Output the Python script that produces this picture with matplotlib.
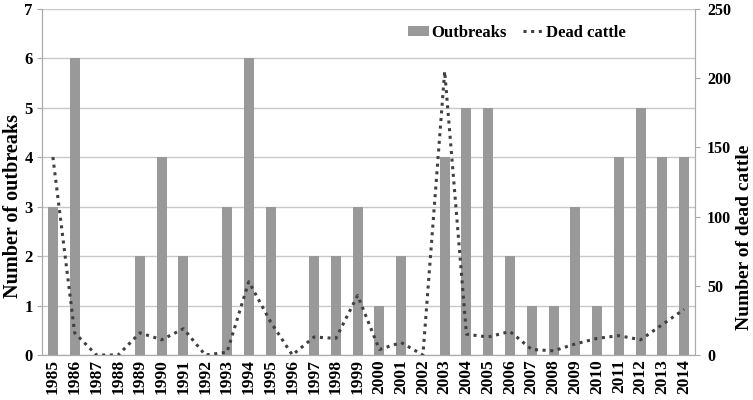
import matplotlib
matplotlib.use("Agg")
import matplotlib.pyplot as plt
import numpy as np

years = list(range(1985, 2015))
outbreaks = [3, 6, 0, 0, 2, 4, 2, 0, 3, 6, 3, 0, 2, 2, 3, 1, 2, 0, 4, 5,
             5, 2, 1, 1, 3, 1, 4, 5, 4, 4]
dead_cattle = [143, 16, 0, 0, 16, 11, 19, 0, 2, 53, 24, 0, 13, 12, 43, 4, 9, 0, 205, 15,
               13, 17, 4, 3, 8, 12, 14, 11, 22, 33]

plt.rcParams['font.family'] = ['Liberation Serif', 'DejaVu Serif']
plt.rcParams['font.weight'] = 'bold'

fig = plt.figure(figsize=(7.53, 4), dpi=100)
ax = fig.add_axes([42 / 753, 45 / 400, 653 / 753, 346 / 400])
x = np.arange(len(years))

ax.bar(x, outbreaks, width=0.46, color='#999999', label='Outbreaks', zorder=2)
ax.set_ylim(0, 7)
ax.set_xlim(-0.5, len(years) - 0.5)
ax.set_yticks(range(8))
ax.yaxis.grid(True, color='#c8c8c8', linewidth=1, zorder=0)
ax.set_axisbelow(True)
ax.set_xticks(x)
ax.set_xticklabels([str(y) for y in years], rotation=90, fontsize=12.5, fontweight='bold')
ax.tick_params(axis='y', labelsize=12, length=3.6, color='#aaaaaa', pad=3)
ax.tick_params(axis='x', length=0, pad=3)
ax.set_ylabel('Number of outbreaks', fontsize=14.5, fontweight='bold', va='center')
ax.yaxis.set_label_coords(-29 / 653, 0.43)

ax2 = ax.twinx()
ax2.plot(x, dead_cattle, linestyle=(0, (1, 1.5)), color='#404040', linewidth=2.2,
         label='Dead cattle', zorder=3)
ax2.set_ylim(0, 250)
ax2.set_yticks(range(0, 251, 50))
ax2.tick_params(axis='y', labelsize=11.5, length=3.6, color='#aaaaaa', pad=5)
ax2.set_ylabel('Number of dead cattle', fontsize=14, fontweight='bold', va='center')
ax2.yaxis.set_label_coords(703 / 653, 0.34)

for a in (ax, ax2):
    for s in a.spines.values():
        s.set_color('#aaaaaa')
    a.spines['top'].set_visible(False)

h1, l1 = ax.get_legend_handles_labels()
h2, l2 = ax2.get_legend_handles_labels()
ax2.legend(h1 + h2, l1 + l2, loc='center', bbox_to_anchor=(0.727, 0.931), ncol=2,
           frameon=False, handlelength=1.3, handleheight=0.6, columnspacing=1.0,
           handletextpad=0.1, prop={'weight': 'bold', 'size': 12})

fig.savefig('out.png', dpi=100)
